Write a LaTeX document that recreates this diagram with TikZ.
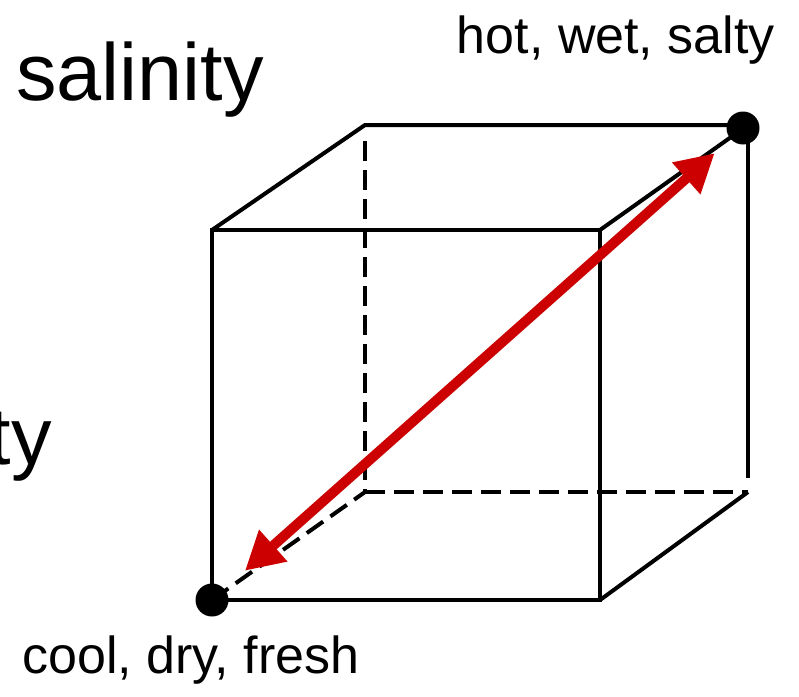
\documentclass[tikz,border=0pt]{standalone}
\usepackage{fontspec}
\setmainfont{Liberation Sans}
\usetikzlibrary{arrows.meta}
\definecolor{arrowred}{RGB}{204,0,0}
\tikzset{
    edge/.style={line width=4pt, black},
    hidden/.style={line width=4pt, black, dash pattern=on 20pt off 9pt},
    corner/.style={circle, fill=black, inner sep=0pt, minimum size=33pt},
    bigword/.style={inner sep=0pt, font=\fontsize{81}{90}\selectfont},
    smallword/.style={inner sep=0pt, font=\fontsize{52}{60}\selectfont}
}
\begin{document}
\begin{tikzpicture}[x=1pt, y=-1pt]
    \useasboundingbox (0,0) rectangle (799,696);
    \clip (0,0) rectangle (799,696);
    % Corners of the cube
    \coordinate (F1) at (212,230);
    \coordinate (F2) at (600,230);
    \coordinate (F3) at (600,600);
    \coordinate (F4) at (212,600);
    \coordinate (B1) at (365,125);
    \coordinate (B2) at (748,125);
    \coordinate (B3) at (748,492);
    \coordinate (B4) at (365,492);
    % Axis words
    \node[bigword, anchor=base west] (sal) at (16,100) {salinity};
    \node[bigword, anchor=base east] (hum) at (52,464) {humidity};
    % Hidden edges
    \draw[hidden, shorten <=16pt] (B1) -- (B4);
    \draw[hidden] (B4) -- (B3);
    \draw[hidden] (F4) -- (B4);
    % Visible edges
    \draw[edge] (F1) rectangle (F3);
    \draw[edge] (F1) -- (B1) -- (B2) -- (F2);
    \draw[edge, shorten >=14pt] (B2) -- (B3);
    \draw[edge] (F3) -- (B3);
    % End points
    \node[corner] (cool) at (212,600) {};
    \node[corner] (hot) at (743,128) {};
    \node[smallword, anchor=base west] (coollbl) at (22,673) {cool, dry, fresh};
    \node[smallword, anchor=base east] (hotlbl) at (775,53) {hot, wet, salty};
    % Diagonal arrow
    \draw[line width=10pt, arrowred, {Triangle[length=38pt,width=40pt]}-{Triangle[length=38pt,width=40pt]},
          shorten <=44pt, shorten >=38pt] (cool.center) -- (hot.center);
\end{tikzpicture}
\end{document}
